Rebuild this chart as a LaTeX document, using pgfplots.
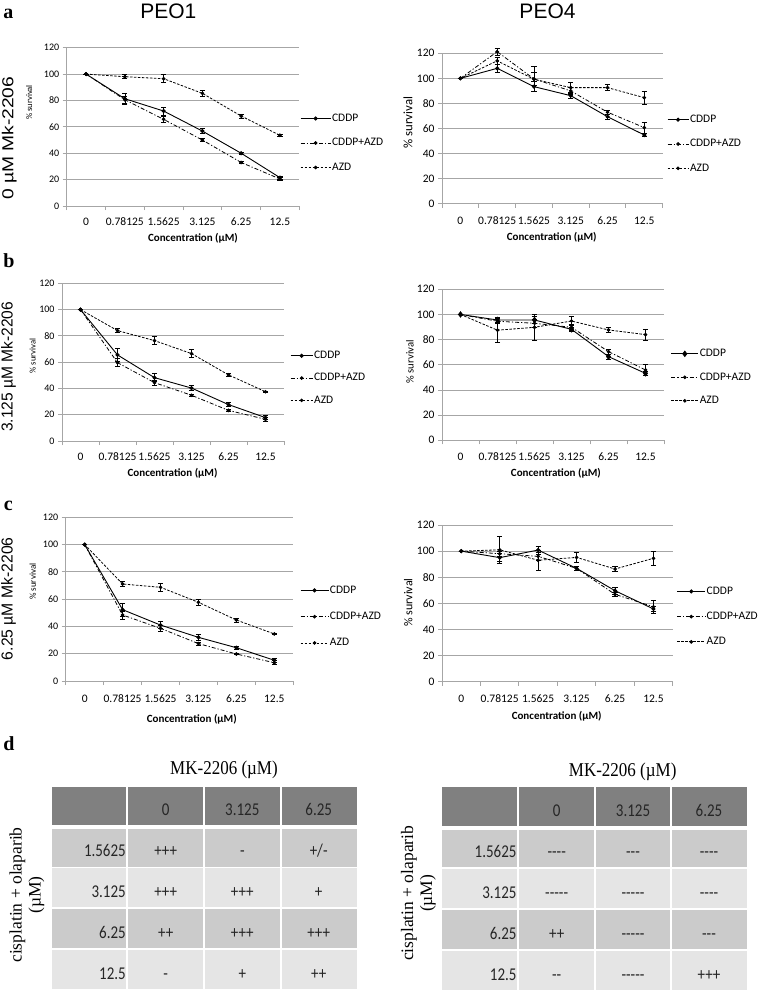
\documentclass[border=0pt]{standalone}
\usepackage{fontspec}
\setmainfont{Carlito}
\newfontfamily\arialf{Liberation Sans}
\newfontfamily\serifb{Liberation Serif}
\usepackage{graphicx}
\usepackage{pgfplots}
\usepackage{pgfplotstable}
\pgfplotsset{compat=1.18}

\definecolor{gridc}{HTML}{A6A6A6}
\definecolor{hdr}{HTML}{808080}
\definecolor{rowA}{HTML}{CBCBCB}
\definecolor{rowB}{HTML}{E5E5E5}
\definecolor{tcol}{HTML}{262626}

% columns: x, CDDP (c, ec), CDDP+AZD (d, ed), AZD (a, ea)
\pgfplotstableread{
x c ec d ed a ea
0 100 0 100 0 100 0
1 81.3 4.5 80.5 3 98 1.5
2 72 3 65.7 2 96.5 3
3 56.8 2 50 1 85.4 2.5
4 40 1 33 1 68.2 1.5
5 21.5 1 20.5 1 53.6 0.5
}\dAL
\pgfplotstableread{
x c ec d ed a ea
0 100 0 100 0 100 0
1 108 3 121.3 3 114 3
2 93.4 4 99.5 5 99.3 10
3 86.2 2 90 3 92.6 4
4 69.4 2 73 1.5 92.6 2.5
5 54.8 1 60.7 4.5 84.6 5
}\dAR
\pgfplotstableread{
x c ec d ed a ea
0 100 0 100 0 100 0
1 65.5 5 59.6 3 84 1.5
2 48.2 3 44.4 2 76.4 3
3 40.3 2 34.8 1 66.5 3
4 27.7 1.5 23.3 1 50.3 1
5 17.8 1.5 16.5 1.5 37.5 0.5
}\dBL
\pgfplotstableread{
x c ec d ed a ea
0 100 0 100 0 100 0
1 95.6 2 94.6 2 87.5 10
2 95.6 3 93 3 89.8 10
3 88.2 1.5 89.8 2 94.8 3.5
4 66.5 2 70.5 2 87.7 2
5 53.2 1.5 55.9 4.5 84 4.5
}\dBR
\pgfplotstableread{
x c ec d ed a ea
0 100 0 100 0 100 0
1 52.3 5 48.4 3 71.1 2
2 41 2.5 38.6 2 68.7 3
3 32 2 27.4 1 57.7 2.5
4 24.4 1 19.8 0.5 44.7 1.5
5 15.2 1.5 13.4 1.5 34.5 0.5
}\dCL
\pgfplotstableread{
x c ec d ed a ea
0 100 0 100 0 100 0
1 95 3 98 2 101 10.5
2 100.8 3 96 3 93 8
3 86.8 1.5 86.8 1.5 95.2 4
4 69.7 2.5 66.9 1.5 86.3 2
5 55.7 2 57.4 5 94.5 5
}\dCR

\pgfplotsset{
 survbase/.style={
  scale only axis, anchor=south west, clip=false,
  xmin=-0.5, xmax=5.5, ymin=0, ymax=120,
  xtick={-0.5,0.5,1.5,2.5,3.5,4.5,5.5},
  x tick label as interval,
  xticklabels={0,0.78125,1.5625,3.125,6.25,12.5},
  ytick={0,20,40,60,80,100,120},
  axis x line*=bottom, axis y line*=left,
  axis line style={gridc, line width=0.9pt, -},
  ymajorgrids, grid style={gridc, line width=0.9pt},
  tick align=outside, major tick length=4pt,
  tick style={gridc, line width=0.9pt},
  xticklabel style={font=\fontsize{11.5}{13}\selectfont, text=black, anchor=base},
  yticklabel style={font=\fontsize{11}{13}\selectfont, text=black},
  /pgf/number format/assume math mode=true,
  ylabel={\% survival},
  xlabel={Concentration (µM)},
  xlabel style={anchor=center, font=\bfseries\fontsize{11}{13}\selectfont},
  legend cell align=left,
  legend style={draw=none, fill=none, anchor=west, inner sep=0pt,
    font=\fontsize{11.5}{13}\selectfont,
    nodes={inner sep=1pt, text height=8pt, text depth=2.5pt}},
 },
 leglen/.style={legend image code/.code={\draw[mark repeat=2,mark phase=2,##1] plot coordinates {(0pt,0pt) (0.5*#1,0pt) (#1,0pt)};}},
 cddp/.style={black, line width=0.9pt, solid, mark=*, mark size=1.6pt, mark options={solid}},
 combo/.style={black, line width=0.8pt, dash pattern=on 4pt off 2pt on 1.2pt off 2pt, mark=*, mark size=1.4pt, mark options={solid}},
 azd/.style={black, line width=0.8pt, dash pattern=on 2.5pt off 1.5pt, mark=*, mark size=1.4pt, mark options={solid}},
 eb/.style={error bars/.cd, y dir=both, y explicit, error bar style={solid, line width=0.6pt, black}, error mark options={rotate=90, mark size=2.6pt, line width=0.6pt, solid, black}},
}

\newcommand\cel[5]{\fill[#5] (#1pt,-#2pt) rectangle (#3pt,-#4pt);}
\newcommand\tc[3]{\node[anchor=base, inner sep=0pt, font=\fontsize{15}{16}\selectfont, text=tcol] at (#1pt,-#2pt) {\scalebox{1}[1.2]{#3}};}
\newcommand\tr[3]{\node[anchor=base east, inner sep=0pt, font=\fontsize{15}{16}\selectfont, text=tcol] at (#1pt,-#2pt) {\scalebox{1}[1.2]{#3}};}
\newcommand\hy{\mbox{-}}

\begin{document}
\begin{tikzpicture}
\useasboundingbox (0,0) rectangle (763pt,-992pt);
\fill[white] (0,0) rectangle (763pt,-992pt);

% titles and panel letters
\node[font=\arialf\fontsize{21}{21}\selectfont, inner sep=0pt] at (168.3pt,-10.8pt) {PEO1};
\node[font=\arialf\fontsize{21}{21}\selectfont, inner sep=0pt] at (547.5pt,-10.8pt) {PEO4};
\node[font=\serifb\bfseries\fontsize{20}{20}\selectfont, inner sep=0pt] at (8.3pt,-13.8pt) {a};
\node[font=\serifb\bfseries\fontsize{20}{20}\selectfont, inner sep=0pt] at (9pt,-261pt) {b};
\node[font=\serifb\bfseries\fontsize{20}{20}\selectfont, inner sep=0pt] at (8.3pt,-505.7pt) {c};
\node[font=\serifb\bfseries\fontsize{20}{20}\selectfont, inner sep=0pt] at (9pt,-743.3pt) {d};

% row labels
\node[rotate=90, inner sep=0pt] at (9.3pt,-138.3pt) {\resizebox{123.3pt}{11.5pt}{\arialf\fontsize{16}{16}\selectfont 0 µM Mk-2206}};
\node[rotate=90, inner sep=0pt] at (8.5pt,-366.7pt) {\resizebox{130pt}{11.5pt}{\arialf\fontsize{16}{16}\selectfont 3.125 µM Mk-2206}};
\node[rotate=90, inner sep=0pt] at (8.5pt,-598.7pt) {\resizebox{122.7pt}{11.5pt}{\arialf\fontsize{16}{16}\selectfont 6.25 µM Mk-2206}};

% ---------- a left
\begin{axis}[survbase, at={(66.7pt,-206pt)}, width=232.6pt, height=158.3pt,
  xticklabel style={yshift=-15pt},
  ylabel style={at={(axis description cs:-0.161,0.654)}, anchor=center, font=\fontsize{8.6}{10}\selectfont},
  xlabel style={at={(axis description cs:0.543,-0.202)}},
  yticklabel style={font=\fontsize{10}{12}\selectfont},
  legend style={at={(axis description cs:1.003,0.398)}, row sep=12pt}, leglen=30pt]
\addplot[cddp, eb] table[x=x, y=c, y error=ec] {\dAL};
\addplot[combo, eb] table[x=x, y=d, y error=ed] {\dAL};
\addplot[azd, eb] table[x=x, y=a, y error=ea] {\dAL};
\legend{CDDP,CDDP+AZD,AZD}
\end{axis}

% ---------- a right
\begin{axis}[survbase, at={(442pt,-203.7pt)}, width=220.7pt, height=150.4pt,
  xticklabel style={yshift=-16.3pt},
  ylabel style={at={(axis description cs:-0.154,0.54)}, anchor=center, font=\fontsize{12.8}{14}\selectfont},
  xlabel style={at={(axis description cs:0.497,-0.221)}},
  yticklabel style={font=\fontsize{11.5}{13}\selectfont},
  legend style={at={(axis description cs:1.019,0.397)}, row sep=11.8pt}, leglen=21pt]
\addplot[cddp, eb] table[x=x, y=c, y error=ec] {\dAR};
\addplot[combo, eb] table[x=x, y=d, y error=ed] {\dAR};
\addplot[azd, eb] table[x=x, y=a, y error=ea] {\dAR};
\legend{CDDP,CDDP+AZD,AZD}
\end{axis}

% ---------- b left
\begin{axis}[survbase, at={(62pt,-441pt)}, width=222pt, height=157.7pt,
  xticklabel style={yshift=-15pt},
  ylabel style={at={(axis description cs:-0.132,0.54)}, anchor=center, font=\fontsize{8.6}{10}\selectfont},
  xlabel style={at={(axis description cs:0.498,-0.203)}},
  yticklabel style={font=\fontsize{10}{12}\selectfont},
  legend style={at={(axis description cs:1.027,0.399)}, row sep=9.8pt}, leglen=22pt]
\addplot[cddp, eb] table[x=x, y=c, y error=ec] {\dBL};
\addplot[combo, eb] table[x=x, y=d, y error=ed] {\dBL};
\addplot[azd, eb] table[x=x, y=a, y error=ea] {\dBL};
\legend{CDDP,CDDP+AZD,AZD}
\end{axis}

% ---------- b right
\begin{axis}[survbase, at={(442pt,-440.3pt)}, width=222pt, height=151pt,
  xticklabel style={yshift=-15.7pt},
  ylabel style={at={(axis description cs:-0.144,0.52)}, anchor=center, font=\fontsize{10.7}{12}\selectfont},
  xlabel style={at={(axis description cs:0.513,-0.219)}},
  yticklabel style={font=\fontsize{11.5}{13}\selectfont},
  legend style={at={(axis description cs:1.03,0.417)}, row sep=11pt}, leglen=27pt]
\addplot[cddp, mark=diamond*, mark size=2.6pt, eb] table[x=x, y=c, y error=ec] {\dBR};
\addplot[combo, eb] table[x=x, y=d, y error=ed] {\dBR};
\addplot[azd, eb] table[x=x, y=a, y error=ea] {\dBR};
\legend{CDDP,CDDP+AZD,AZD}
\end{axis}

% ---------- c left
\begin{axis}[survbase, at={(65.7pt,-681pt)}, width=227.6pt, height=163.7pt,
  xticklabel style={yshift=-17.5pt},
  ylabel style={at={(axis description cs:-0.145,0.607)}, anchor=center, font=\fontsize{9}{10}\selectfont},
  xlabel style={at={(axis description cs:0.554,-0.234)}},
  yticklabel style={font=\fontsize{10}{12}\selectfont},
  legend style={at={(axis description cs:1.029,0.393)}, row sep=13.8pt}, leglen=28pt]
\addplot[cddp, eb] table[x=x, y=c, y error=ec] {\dCL};
\addplot[combo, eb] table[x=x, y=d, y error=ed] {\dCL};
\addplot[azd, eb] table[x=x, y=a, y error=ea] {\dCL};
\legend{CDDP,CDDP+AZD,AZD}
\end{axis}

% ---------- c right
\begin{axis}[survbase, at={(442pt,-681.7pt)}, width=230.7pt, height=156.7pt,
  xticklabel style={yshift=-17pt},
  ylabel style={at={(axis description cs:-0.146,0.505)}, anchor=center, font=\fontsize{12}{13}\selectfont},
  xlabel style={at={(axis description cs:0.497,-0.219)}},
  yticklabel style={font=\fontsize{11.5}{13}\selectfont},
  legend style={at={(axis description cs:1.017,0.415)}, row sep=12.7pt}, leglen=28pt]
\addplot[cddp, eb] table[x=x, y=c, y error=ec] {\dCR};
\addplot[combo, eb] table[x=x, y=d, y error=ed] {\dCR};
\addplot[azd, eb] table[x=x, y=a, y error=ea] {\dCR};
\legend{CDDP,CDDP+AZD,AZD}
\end{axis}

% ---------- table left
\node[anchor=base, inner sep=0pt, font=\serifb\fontsize{17}{17}\selectfont] at (224pt,-774pt) {\scalebox{1}[1.15]{MK-2206 (µM)}};
\node[rotate=90, align=center, inner sep=0pt, font=\serifb\fontsize{17.5}{19}\selectfont] at (27pt,-895pt) {cisplatin + olaparib\\(µM)};
\cel{51.7}{787.3}{126.4}{825}{hdr}\cel{128.2}{787.3}{203.1}{825}{hdr}\cel{204.9}{787.3}{279.8}{825}{hdr}\cel{281.6}{787.3}{356.7}{825}{hdr}
\cel{51.7}{829.3}{126.4}{866.7}{rowA}\cel{128.2}{829.3}{203.1}{866.7}{rowA}\cel{204.9}{829.3}{279.8}{866.7}{rowA}\cel{281.6}{829.3}{356.7}{866.7}{rowA}
\cel{51.7}{868.3}{126.4}{907.3}{rowB}\cel{128.2}{868.3}{203.1}{907.3}{rowB}\cel{204.9}{868.3}{279.8}{907.3}{rowB}\cel{281.6}{868.3}{356.7}{907.3}{rowB}
\cel{51.7}{909.3}{126.4}{948.3}{rowA}\cel{128.2}{909.3}{203.1}{948.3}{rowA}\cel{204.9}{909.3}{279.8}{948.3}{rowA}\cel{281.6}{909.3}{356.7}{948.3}{rowA}
\cel{51.7}{950}{126.4}{989.3}{rowB}\cel{128.2}{950}{203.1}{989.3}{rowB}\cel{204.9}{950}{279.8}{989.3}{rowB}\cel{281.6}{950}{356.7}{989.3}{rowB}
\tc{165.7}{815}{0}\tc{242.3}{815}{3.125}\tc{318.7}{815}{6.25}
\tr{126}{856.7}{1.5625}\tc{165.7}{856.7}{+++}\tc{242.3}{856.7}{-}\tc{318.7}{856.7}{+/-}
\tr{126}{897.3}{3.125}\tc{165.7}{897.3}{+++}\tc{242.3}{897.3}{+++}\tc{318.7}{897.3}{+}
\tr{126}{938.3}{6.25}\tc{165.7}{938.3}{++}\tc{242.3}{938.3}{+++}\tc{318.7}{938.3}{+++}
\tr{126}{979.3}{12.5}\tc{165.7}{979.3}{-}\tc{242.3}{979.3}{+}\tc{318.7}{979.3}{++}

% ---------- table right
\node[anchor=base, inner sep=0pt, font=\serifb\fontsize{17}{17}\selectfont] at (622.7pt,-776.7pt) {\scalebox{1}[1.15]{MK-2206 (µM)}};
\node[rotate=90, align=center, inner sep=0pt, font=\serifb\fontsize{17.5}{19}\selectfont] at (418.5pt,-893.3pt) {cisplatin + olaparib\\(µM)};
\cel{442.3}{787.3}{517.4}{826}{hdr}\cel{519.2}{787.3}{594.1}{826}{hdr}\cel{595.9}{787.3}{670.1}{826}{hdr}\cel{671.9}{787.3}{747.3}{826}{hdr}
\cel{442.3}{830}{517.4}{867.3}{rowA}\cel{519.2}{830}{594.1}{867.3}{rowA}\cel{595.9}{830}{670.1}{867.3}{rowA}\cel{671.9}{830}{747.3}{867.3}{rowA}
\cel{442.3}{869.3}{517.4}{908.3}{rowB}\cel{519.2}{869.3}{594.1}{908.3}{rowB}\cel{595.9}{869.3}{670.1}{908.3}{rowB}\cel{671.9}{869.3}{747.3}{908.3}{rowB}
\cel{442.3}{910}{517.4}{949.3}{rowA}\cel{519.2}{910}{594.1}{949.3}{rowA}\cel{595.9}{910}{670.1}{949.3}{rowA}\cel{671.9}{910}{747.3}{949.3}{rowA}
\cel{442.3}{950.7}{517.4}{990}{rowB}\cel{519.2}{950.7}{594.1}{990}{rowB}\cel{595.9}{950.7}{670.1}{990}{rowB}\cel{671.9}{950.7}{747.3}{990}{rowB}
\tc{556.7}{816}{0}\tc{633}{816}{3.125}\tc{709}{816}{6.25}
\tr{516.7}{857.3}{1.5625}\tc{556.7}{857.3}{\hy\hy\hy\hy}\tc{633}{857.3}{\hy\hy\hy}\tc{709}{857.3}{\hy\hy\hy\hy}
\tr{516.7}{898.3}{3.125}\tc{556.7}{898.3}{\hy\hy\hy\hy\hy}\tc{633}{898.3}{\hy\hy\hy\hy\hy}\tc{709}{898.3}{\hy\hy\hy\hy}
\tr{516.7}{939.3}{6.25}\tc{556.7}{939.3}{++}\tc{633}{939.3}{\hy\hy\hy\hy\hy}\tc{709}{939.3}{\hy\hy\hy}
\tr{516.7}{980}{12.5}\tc{556.7}{980}{\hy\hy}\tc{633}{980}{\hy\hy\hy\hy\hy}\tc{709}{980}{+++}
\end{tikzpicture}
\end{document}
